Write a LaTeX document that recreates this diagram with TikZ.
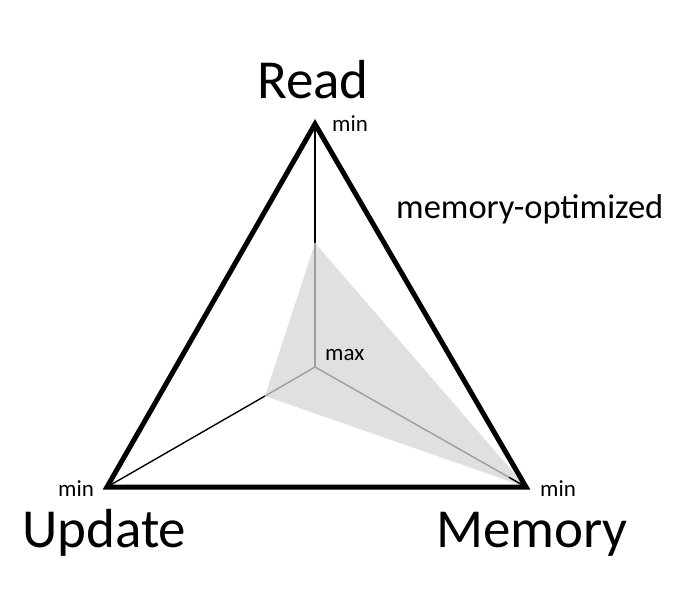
\documentclass[tikz,border=0pt]{standalone}
\usepackage{fontspec}
\setmainfont{Carlito}
\usetikzlibrary{calc}
\begin{document}
\begin{tikzpicture}[x=1pt,y=-1pt,
  frame/.style={line width=5pt, line join=miter, black},
  spoke/.style={line width=1.4pt, black},
  gspoke/.style={line width=1.4pt, color=black!38},
  shade/.style={fill=black!12, draw=none},
  big/.style={font=\fontsize{55}{62}\selectfont, inner sep=0pt},
  mid/.style={font=\fontsize{34.5}{40}\selectfont, inner sep=0pt},
  small/.style={font=\fontsize{23}{27}\selectfont, inner sep=0pt, text height=0.7em, text depth=0pt}]
\useasboundingbox (0,0) rectangle (688,602);
\coordinate (R) at (315,124);
\coordinate (U) at (107,487);
\coordinate (M) at (526,487);
\coordinate (C) at (315,367);
\coordinate (sR) at (315,243);
\coordinate (sU) at (265,396);
% shaded region
\fill[shade] (sR) -- (sU) -- (M) -- cycle;
% spokes
\draw[spoke] (R) -- (sR);
\draw[spoke] (U) -- (sU);
\draw[gspoke] (sR) -- (C);
\draw[gspoke] (sU) -- (C);
\draw[gspoke] (C) -- ($(C)!0.92!(M)$) coordinate (gM);
\draw[spoke] (gM) -- (M);
% frame
\draw[frame] (R) -- (U) -- (M) -- cycle;
% labels
\node[big, anchor=base, text depth=0pt] (tR) at (313,99) {Read};
\node[big, anchor=base west] (tU) at (22,547) {Update};
\node[big, anchor=base west] (tM) at (436,547) {Memory};
\node[mid, anchor=base west] (opt) at (396,218) {memory-optimized};
\node[small, anchor=base west] (mR) at (332,131) {min};
\node[small, anchor=base west] (mU) at (58,496) {min};
\node[small, anchor=base west] (mM) at (540,496) {min};
\node[small, anchor=base west] (mx) at (325,360) {max};
\end{tikzpicture}
\end{document}
